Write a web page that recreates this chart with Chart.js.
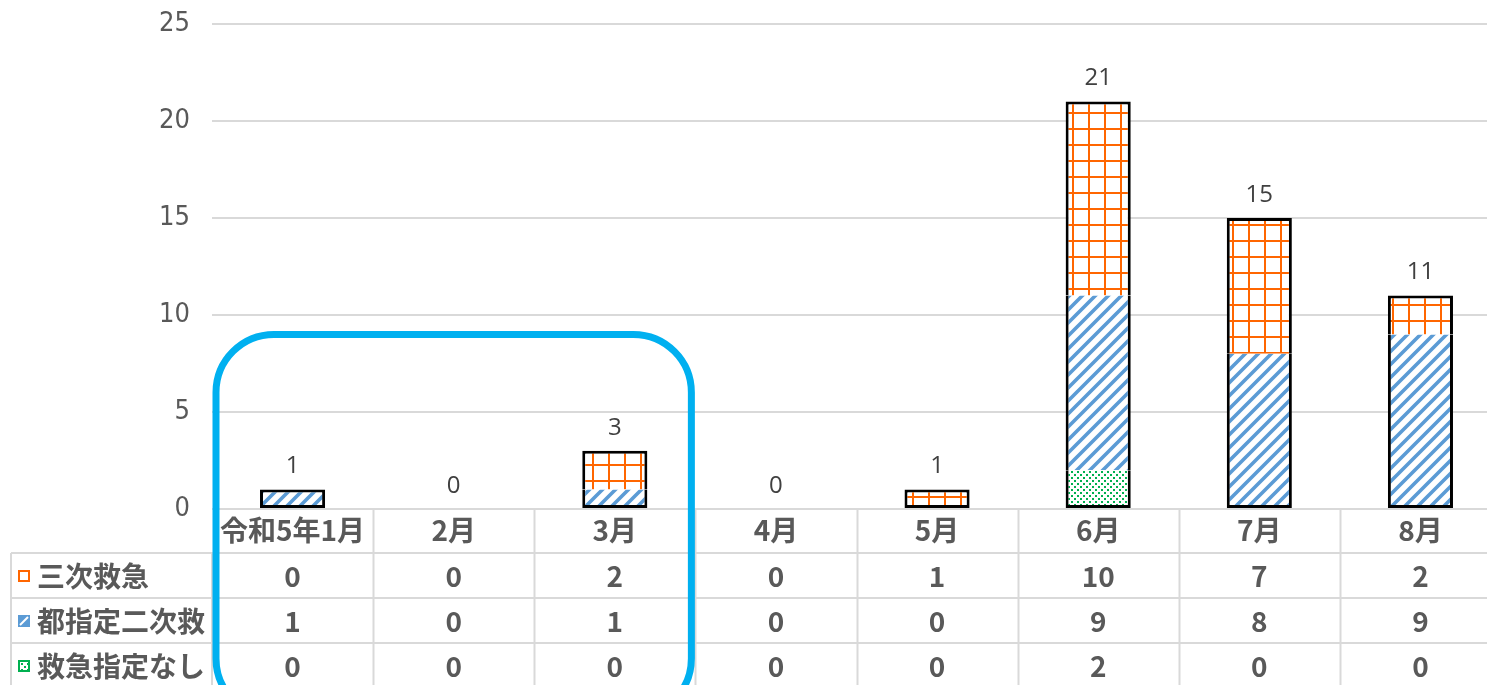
<!DOCTYPE html>
<html><head><meta charset="utf-8">
<script src="https://cdn.jsdelivr.net/npm/chart.js@4/dist/chart.umd.min.js"></script>
<style>
html,body{margin:0;padding:0;background:#fff;overflow:hidden;}
#wrap{width:1502px;height:685px;position:relative;}
</style></head>
<body><div id="wrap"><canvas id="c" width="1502" height="685"></canvas></div>
<script>
const categories = ['令和5年1月','2月','3月','4月','5月','6月','7月','8月'];
const seriesNames = ['三次救急','都指定二次救','救急指定なし'];
const sanji = [0,0,2,0,1,10,7,2];
const toShitei = [1,0,1,0,0,9,8,9];
const shiteiNashi = [0,0,0,0,0,2,0,0];
const yTicks = [0,5,10,15,20,25];

const ORANGE = '#ff6600', BLUE = '#5b9bd5', GREEN = '#00b050';

function makePattern(kind){
  const c = document.createElement('canvas');
  const x = c.getContext('2d');
  if(kind==='grid'){
    c.width=16;c.height=16;
    x.fillStyle='#fff';x.fillRect(0,0,16,16);
    x.fillStyle=ORANGE;x.fillRect(0,0,2,16);x.fillRect(0,0,16,2);
  } else if(kind==='diag'){
    const s=13;c.width=s;c.height=s;
    x.fillStyle='#fff';x.fillRect(0,0,s,s);
    x.strokeStyle=BLUE;x.lineWidth=3.6;
    x.beginPath();
    x.moveTo(-2,s+2);x.lineTo(s+2,-2);
    x.moveTo(-s/2-2,s/2+2);x.lineTo(s/2+2,-s/2-2);
    x.moveTo(s/2-2,s*1.5+2);x.lineTo(s*1.5+2,s/2-2);
    x.stroke();
  } else {
    c.width=6;c.height=6;
    x.fillStyle='#fff';x.fillRect(0,0,6,6);
    x.fillStyle=GREEN;x.fillRect(0,0,2,2);x.fillRect(3,3,2,2);
  }
  return x.createPattern(c,'repeat');
}
const patGrid = makePattern('grid'), patDiag = makePattern('diag'), patDots = makePattern('dots');

// stack order bottom -> top
const stackData = [shiteiNashi, toShitei, sanji];
function bw(ctx){
  const i = ctx.datasetIndex, j = ctx.dataIndex;
  const v = stackData[i][j];
  const W = 3;
  if(!v) return 0;
  let below = false, above = false;
  for(let k=0;k<i;k++) if(stackData[k][j]) below = true;
  for(let k=i+1;k<stackData.length;k++) if(stackData[k][j]) above = true;
  return {left:W,right:W,top:above?0:W,bottom:below?0:W};
}

const tablePlugin = {
  id:'tablePlugin',
  afterDraw(chart){
    const g = chart.ctx, xs = chart.scales.x, ys = chart.scales.y, ca = chart.chartArea;
    const n = categories.length;
    const step = (ca.right-ca.left)/n;
    const b = ca.bottom;
    const rowTop = [b+44, b+89, b+134, b+179];
    g.save();
    g.strokeStyle='#d9d9d9'; g.lineWidth=2;
    g.beginPath();
    for(let k=1;k<=n;k++){ const x=Math.round(ca.left+k*step)+0.5; g.moveTo(x,b); g.lineTo(x,685); }
    g.moveTo(ca.left,rowTop[0]); g.lineTo(ca.left,685);
    g.moveTo(11,rowTop[0]); g.lineTo(11,685);
    for(const y of rowTop){ g.moveTo(11,y); g.lineTo(ca.right,y); }
    g.stroke();
    // totals
    g.fillStyle='#404040'; g.font='24px "Open Sans"'; g.textAlign='center'; g.textBaseline='middle';
    for(let j=0;j<n;j++){
      const t = sanji[j]+toShitei[j]+shiteiNashi[j];
      g.fillText(String(t), xs.getPixelForValue(j), ys.getPixelForValue(t)-23);
    }
    // table text
    g.fillStyle='#595959'; g.font='bold 28px "Noto Sans CJK JP"';
    const rowsVals = [sanji, toShitei, shiteiNashi];
    for(let j=0;j<n;j++){
      const cx = xs.getPixelForValue(j);
      g.fillText(categories[j], cx, b+21);
      for(let r=0;r<3;r++) g.fillText(String(rowsVals[r][j]), cx, rowTop[r]+23);
    }
    g.textAlign='left';
    for(let r=0;r<3;r++) g.fillText(seriesNames[r], 37, rowTop[r]+23);
    // legend keys
    const ky = r => rowTop[r]+17;
    g.lineWidth=2;
    g.fillStyle='#fff'; g.fillRect(19,ky(0)+1,10,10); g.strokeStyle=ORANGE; g.strokeRect(19,ky(0)+1,10,10);
    g.fillStyle=BLUE; g.fillRect(18,ky(1),12,12);
    g.strokeStyle='#fff'; g.lineWidth=2; g.beginPath(); g.moveTo(20,ky(1)+10); g.lineTo(28,ky(1)+2); g.stroke();
    g.fillStyle=patDots; g.fillRect(18,ky(2),12,12); g.strokeStyle=GREEN; g.lineWidth=2; g.strokeRect(19,ky(2)+1,10,10);
    // rounded highlight
    const L = ca.left+4, R = ca.left+3*step-4, T = ys.getPixelForValue(9), B = T+382, rad = 58;
    g.strokeStyle='#00b0f0'; g.lineWidth=7;
    g.beginPath(); g.roundRect(L,T,R-L,B-T,rad); g.stroke();
    g.restore();
  }
};

new Chart(document.getElementById('c'), {
  type:'bar',
  data:{
    labels:categories,
    datasets:[
      {label:seriesNames[2], data:shiteiNashi, backgroundColor:patDots},
      {label:seriesNames[1], data:toShitei, backgroundColor:patDiag},
      {label:seriesNames[0], data:sanji, backgroundColor:patGrid}
    ]
  },
  options:{
    responsive:false, animation:false, devicePixelRatio:1,
    layout:{padding:{top:24,bottom:176,left:0,right:1}},
    datasets:{bar:{categoryPercentage:0.404,barPercentage:1,borderColor:'#000',borderWidth:bw,borderSkipped:false}},
    plugins:{legend:{display:false},tooltip:{enabled:false},title:{display:false}},
    scales:{
      x:{stacked:true,display:false},
      y:{stacked:true,min:0,max:25,
        afterBuildTicks(s){ s.ticks = yTicks.map(v=>({value:v})); },
        afterFit(s){ s.width=212; s.paddingTop=0; s.paddingBottom=0; },
        grid:{color:'#d9d9d9',lineWidth:2,drawTicks:false},
        border:{display:false},
        ticks:{padding:22,color:'#595959',font:{family:'"Liberation Sans Narrow", "DejaVu Sans Condensed", "Roboto Condensed", Roboto',size:27}}
      }
    }
  },
  plugins:[tablePlugin]
});
</script></body></html>
